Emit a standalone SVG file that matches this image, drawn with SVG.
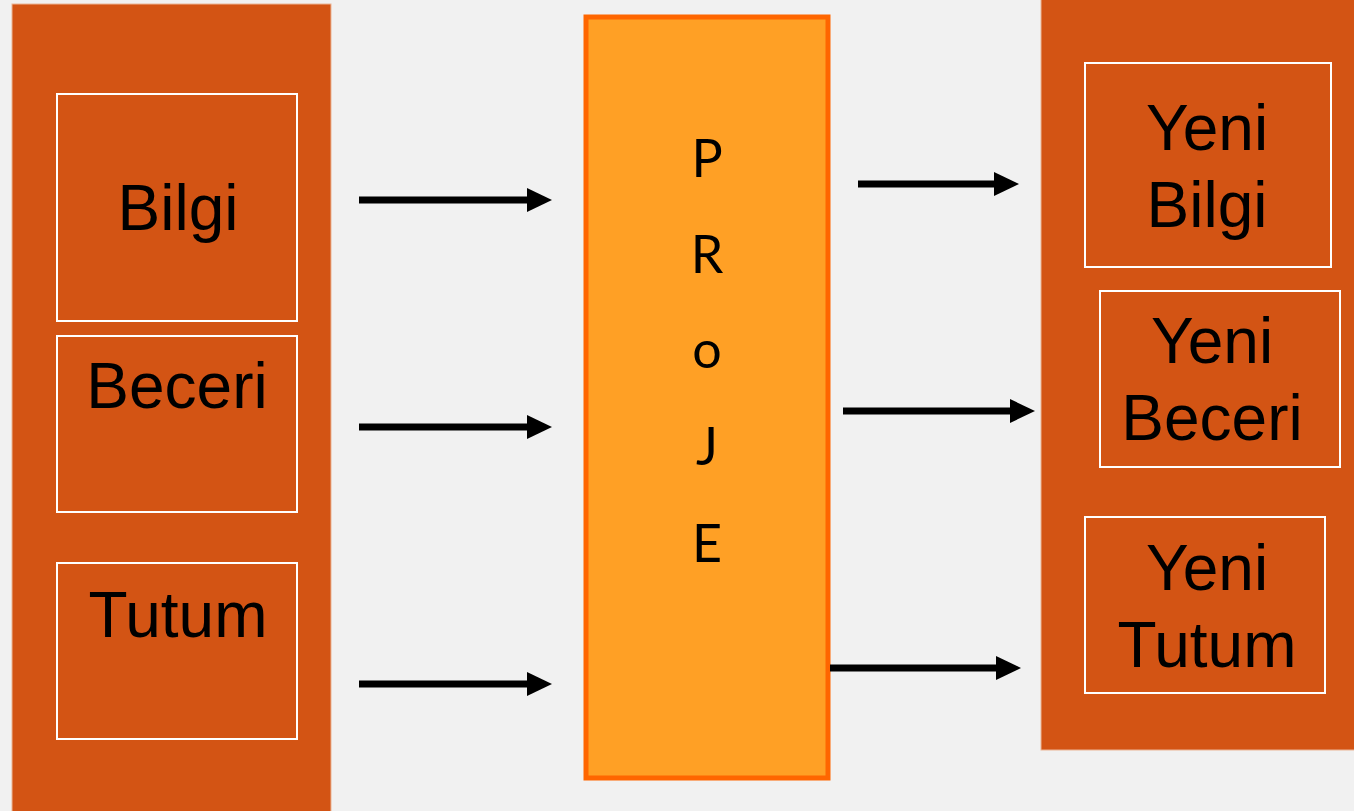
<svg xmlns="http://www.w3.org/2000/svg" width="1354" height="811" viewBox="0 0 1354 811">
<defs>
<style>
.panel{fill:#D35414;stroke:#EBB596;stroke-width:1}
.box{fill:#D35414;stroke:#FFFFFF;stroke-width:2}
.lbl{font-family:'Comic Sans MS','Liberation Sans',sans-serif;font-size:64px;fill:#000;text-anchor:middle}
.proj{fill:#FFA025;stroke:#FF6600;stroke-width:5}
.letter{font-family:Lato,'Open Sans',sans-serif;font-size:52px;fill:#000;text-anchor:middle}
.arrow{stroke:#000;stroke-width:7;fill:none;marker-end:url(#head)}
</style>
<marker id="head" markerUnits="userSpaceOnUse" viewBox="0 0 25 24" markerWidth="25" markerHeight="24" refX="2" refY="12" orient="auto">
<polygon points="0,0 25,12 0,24" fill="#000"/>
</marker>
</defs>
<rect x="0" y="0" width="1354" height="811" fill="#F1F1F1"/>

<g id="left-panel">
<rect class="panel" x="12" y="4" width="319" height="820"/>
</g>
<g id="bilgi">
<rect class="box" x="57" y="94" width="240" height="227"/>
<text class="lbl" x="178" y="230">Bilgi</text>
</g>
<g id="beceri">
<rect class="box" x="57" y="336" width="240" height="176"/>
<text class="lbl" x="177" y="408">Beceri</text>
</g>
<g id="tutum">
<rect class="box" x="57" y="563" width="240" height="176"/>
<text class="lbl" x="178" y="637">Tutum</text>
</g>

<g id="proje">
<rect class="proj" x="586" y="17" width="242" height="761"/>
<text class="letter" x="707" y="177">P</text>
<text class="letter" x="707" y="273">R</text>
<text class="letter" x="707" y="368">o</text>
<text class="letter" x="707" y="465">J</text>
<text class="letter" x="707" y="562">E</text>
</g>

<g id="right-panel">
<rect class="panel" x="1041" y="-10" width="330" height="760"/>
</g>
<g id="yeni-bilgi">
<rect class="box" x="1085" y="63" width="246" height="204"/>
<text class="lbl" x="1207" y="150">Yeni</text>
<text class="lbl" x="1207" y="227">Bilgi</text>
</g>
<g id="yeni-beceri">
<rect class="box" x="1100" y="291" width="240" height="176"/>
<text class="lbl" x="1212" y="363">Yeni</text>
<text class="lbl" x="1212" y="440">Beceri</text>
</g>
<g id="yeni-tutum">
<rect class="box" x="1085" y="517" width="240" height="176"/>
<text class="lbl" x="1207" y="590">Yeni</text>
<text class="lbl" x="1207" y="667">Tutum</text>
</g>

<g id="connectors">
<line class="arrow" x1="359" y1="200" x2="529" y2="200"/>
<line class="arrow" x1="359" y1="427" x2="529" y2="427"/>
<line class="arrow" x1="359" y1="684" x2="529" y2="684"/>
<line class="arrow" x1="858" y1="184" x2="996" y2="184"/>
<line class="arrow" x1="843" y1="411" x2="1012" y2="411"/>
<line class="arrow" x1="830" y1="668" x2="998" y2="668"/>
</g>
</svg>
